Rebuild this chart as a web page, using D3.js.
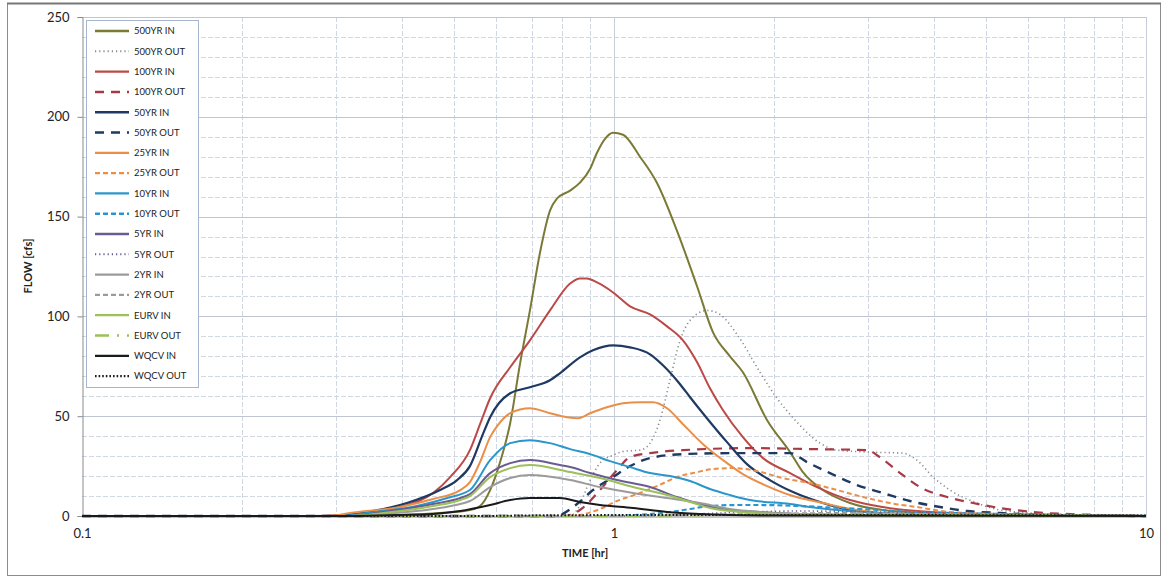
<!DOCTYPE html>
<html><head><meta charset="utf-8">
<script src="https://cdn.jsdelivr.net/npm/d3@7"></script>
<style>
html,body{margin:0;padding:0;background:#fff;}
svg text{font-family:Lato,"Open Sans",sans-serif;}
</style></head>
<body><svg id="c" width="1167" height="578"></svg>
<script>
// ---- data: [time (hr), flow (cfs)] ----
const s500in = [[0.1,0],[0.257,0],[0.396,0.5],[0.471,1.5],[0.536,3],[0.56,5],[0.585,13],[0.61,26.5],[0.638,46.5],[0.666,76.5],[0.695,103],[0.726,132],[0.758,153],[0.781,159],[0.827,163],[0.863,167],[0.902,174],[0.929,182],[0.962,189],[0.996,192],[1.04,191],[1.119,180],[1.204,167],[1.313,143],[1.433,115],[1.535,92],[1.652,80],[1.747,72],[1.94,48],[2.143,32],[2.265,22],[2.47,13],[2.777,6.5],[3.2,3],[4.28,1],[6.6,0.3],[10,0]];
const s500out = [[0.1,0],[0.827,0],[0.852,3],[0.902,18],[0.941,26.5],[0.996,30.5],[1.049,32.5],[1.119,33],[1.169,36.5],[1.22,48],[1.274,68],[1.331,88],[1.39,98],[1.495,103],[1.582,101],[1.703,91],[1.881,72],[2.025,59],[2.208,47],[2.439,36.5],[2.626,33],[3.03,32],[3.49,31.5],[3.71,28],[3.98,19.5],[4.28,13],[4.81,6.5],[5.32,3],[6.6,1],[10,0]];
const s100in = [[0.1,0],[0.28,0],[0.343,1.5],[0.396,4.5],[0.457,11.5],[0.492,19.5],[0.536,33],[0.56,46],[0.585,59],[0.638,74.5],[0.695,88],[0.758,103],[0.827,116.5],[0.863,119],[0.889,119],[0.929,117],[0.996,112],[1.072,105],[1.169,101],[1.258,95],[1.348,88],[1.433,77],[1.515,64],[1.603,53],[1.747,39.5],[1.906,29],[2.143,21.5],[2.407,14.5],[2.777,8],[3.2,4.5],[4.28,1.5],[6.6,0.5],[10,0]];
const s100out = [[0.1,0],[0.809,0],[0.863,3],[0.941,13],[1.013,23],[1.072,29.5],[1.169,31.5],[1.348,33],[1.801,34],[2.366,33.5],[2.99,33],[3.16,29.5],[3.45,21.5],[3.76,14.5],[4.23,9.5],[4.73,6.5],[5.32,4],[6.13,2],[8.2,0.5],[10,0]];
const s50in = [[0.1,0],[0.292,0],[0.343,2],[0.408,6.5],[0.471,13],[0.507,18],[0.536,25],[0.567,41],[0.585,49.5],[0.638,61.5],[0.695,64.5],[0.758,68],[0.791,71.5],[0.863,79.5],[0.913,83],[0.996,85.5],[1.072,84.5],[1.169,81],[1.236,75.5],[1.331,66],[1.39,59.5],[1.495,49],[1.631,37],[1.778,26],[1.963,18],[2.17,12],[2.47,6.5],[2.777,3],[3.45,1],[5.32,0.3],[10,0]];
const s50out = [[0.1,0],[0.775,0],[0.852,6],[0.913,13],[0.996,19.5],[1.072,25],[1.169,29],[1.348,31],[1.674,31.5],[2.143,31.5],[2.306,27],[2.547,21.5],[2.862,15.5],[3.2,11.5],[3.6,7.5],[4.1,4.5],[4.61,2.5],[5.32,1.5],[6.6,0.5],[10,0]];
const s25in = [[0.1,0],[0.292,0],[0.319,1.5],[0.396,4.5],[0.457,8.5],[0.514,13],[0.536,17],[0.56,27],[0.585,39.5],[0.603,45],[0.638,51.5],[0.695,54],[0.758,51.5],[0.816,49.5],[0.856,49],[0.902,51.5],[0.97,54.5],[1.04,56.5],[1.119,57],[1.184,57],[1.258,54],[1.348,46],[1.47,36],[1.603,28],[1.747,21],[1.94,15],[2.17,10],[2.47,6.5],[2.862,3],[3.45,1],[5.32,0.3],[10,0]];
const s25out = [[0.1,0],[0.827,0],[0.941,3.5],[1.013,7.5],[1.105,11],[1.204,15],[1.33,20],[1.408,21.5],[1.535,23.5],[1.674,24],[1.857,22.5],[2.078,19],[2.335,16.5],[2.626,13],[2.94,9.5],[3.3,6.5],[3.71,4.5],[4.28,2],[5.32,1],[6.6,0.5],[10,0]];
const s10in = [[0.1,0],[0.305,0],[0.343,1.5],[0.426,5],[0.486,9],[0.536,13],[0.585,28],[0.638,36.5],[0.695,38],[0.758,36.5],[0.827,33.5],[0.902,31],[0.983,27.5],[1.072,24.5],[1.169,21.5],[1.274,20],[1.39,17.5],[1.515,13.5],[1.652,10.5],[1.801,8],[2.143,6],[2.335,4.5],[2.626,3],[3.16,1.5],[4.28,0.5],[10,0]];
const s10out = [[0.1,0],[0.941,0],[1.169,1],[1.274,2],[1.39,3.5],[1.515,5],[1.703,5.5],[1.881,5.5],[2.236,5],[2.66,4],[3.16,3],[3.6,2],[4.28,1.5],[5.32,1],[8.2,0.3],[10,0]];
const s5in = [[0.1,0],[0.319,0],[0.368,2],[0.457,6],[0.514,9],[0.536,11],[0.585,21.5],[0.638,26.5],[0.695,28],[0.791,25.5],[0.827,24.5],[0.902,21.5],[1.013,18],[1.169,14.5],[1.313,9.5],[1.47,5.5],[1.652,3],[1.881,2],[2.236,1],[3.45,0.3],[10,0]];
const s5out = [[0.1,0],[0.98,0],[1.274,0.5],[1.582,1.5],[2.236,2.5],[3.16,2],[4.28,1.5],[6.6,0.5],[10,0]];
const s2in = [[0.1,0],[0.319,0],[0.368,1],[0.457,3.5],[0.514,6],[0.536,7.5],[0.585,14.5],[0.638,19],[0.695,20.5],[0.827,18],[0.941,14.5],[1.086,11.5],[1.258,9],[1.451,6.5],[1.652,3.5],[1.881,2],[2.236,1],[3.45,0.3],[10,0]];
const s2out = [[0.1,0],[1.02,0],[1.39,0.5],[1.881,1],[2.66,1.5],[3.93,1],[6.6,0.4],[10,0]];
const sEurvIn = [[0.1,0],[0.319,0],[0.368,1.5],[0.457,5],[0.514,8],[0.536,10],[0.585,19.5],[0.638,24],[0.695,25.5],[0.827,22],[0.941,19],[1.086,14.5],[1.258,10.5],[1.39,7],[1.515,4],[1.724,2],[2.052,1],[3.45,0.3],[10,0]];
const sEurvOut = [[0.1,0],[1.0,0],[1.39,0.3],[2.0,0.8],[3.16,1],[5.32,0.6],[10,0]];
const sWqcvIn = [[0.1,0],[0.319,0],[0.396,0.5],[0.457,1],[0.514,2.5],[0.585,5.5],[0.638,8],[0.695,9],[0.791,9],[0.863,7],[0.941,5.5],[1.086,4],[1.258,2],[1.451,1],[1.881,0.3],[10,0]];
const sWqcvOut = [[0.1,0],[0.56,0],[0.7,0.3],[1.2,0.5],[2.5,0.5],[5.0,0.4],[10,0.2]];

const seriesNames = ["500YR IN","500YR OUT","100YR IN","100YR OUT","50YR IN","50YR OUT","25YR IN","25YR OUT","10YR IN","10YR OUT","5YR IN","5YR OUT","2YR IN","2YR OUT","EURV IN","EURV OUT","WQCV IN","WQCV OUT"];
const seriesData = [s500in,s500out,s100in,s100out,s50in,s50out,s25in,s25out,s10in,s10out,s5in,s5out,s2in,s2out,sEurvIn,sEurvOut,sWqcvIn,sWqcvOut];
const yTicks = [0,50,100,150,200,250];
const xTicks = [0.1,1,10];
const xTickLabels = ["0.1","1","10"];

// ---- styles ----
const styles = [
 {c:"#7a7a36",w:2,d:null},
 {c:"#8a8a8a",w:1.6,d:"1.2,3"},
 {c:"#bb4a47",w:2,d:null},
 {c:"#a83a48",w:2.2,d:"9,7"},
 {c:"#1f3a62",w:2.2,d:null},
 {c:"#1f3a62",w:2.4,d:"9,7"},
 {c:"#ea8f48",w:2,d:null},
 {c:"#ea8f48",w:2,d:"5,3"},
 {c:"#2b96cc",w:2,d:null},
 {c:"#2b96cc",w:2.2,d:"5,3"},
 {c:"#6b5b93",w:2,d:null},
 {c:"#6b5b93",w:1.6,d:"1.2,3"},
 {c:"#9b9b9b",w:2,d:null},
 {c:"#9b9b9b",w:2,d:"5,3"},
 {c:"#9cc05a",w:2,d:null},
 {c:"#9cc05a",w:2,d:"14,8,2,8"},
 {c:"#1a1a1a",w:2,d:null},
 {c:"#1a1a1a",w:2,d:"1.6,2"}
];

const svg = d3.select("#c");
const L=82,R=1146,T=17,B=516;
const x = d3.scaleLog().domain([0.1,10]).range([L,R]);
const y = d3.scaleLinear().domain([0,250]).range([B,T]);

// outer frame
svg.append("rect").attr("x",7.5).attr("y",3.5).attr("width",1153).attr("height",572)
  .attr("fill","none").attr("stroke","#8c8c8c").attr("stroke-width",1);
svg.append("line").attr("x1",7).attr("x2",1161).attr("y1",3.5).attr("y2",3.5).attr("stroke","#777").attr("stroke-width",2);

const g = svg.append("g");
// minor horizontal grid
const minorY = d3.range(10,250,10).filter(v=>v%50!==0);
g.selectAll(".hm").data(minorY).enter().append("line")
  .attr("x1",L).attr("x2",R).attr("y1",d=>Math.round(y(d))+0.5).attr("y2",d=>Math.round(y(d))+0.5)
  .attr("stroke","#d3d9e3").attr("stroke-width",1).attr("stroke-dasharray","5,2");
// minor vertical grid
const minorX = [];
[0.1,1].forEach(b=>{for(let k=2;k<=9;k++) minorX.push(b*k);});
g.selectAll(".vm").data(minorX).enter().append("line")
  .attr("y1",T).attr("y2",B).attr("x1",d=>Math.round(x(d))+0.5).attr("x2",d=>Math.round(x(d))+0.5)
  .attr("stroke","#d0d7e2").attr("stroke-width",1).attr("stroke-dasharray","5,2");
// major grid
g.selectAll(".hM").data(yTicks.filter(v=>v>0)).enter().append("line")
  .attr("x1",L).attr("x2",R).attr("y1",d=>Math.round(y(d))+0.5).attr("y2",d=>Math.round(y(d))+0.5)
  .attr("stroke","#bfc6d2").attr("stroke-width",1);
g.selectAll(".vM").data(xTicks.slice(1)).enter().append("line")
  .attr("y1",T).attr("y2",B).attr("x1",d=>Math.round(x(d))+0.5).attr("x2",d=>Math.round(x(d))+0.5)
  .attr("stroke","#c6cdd8").attr("stroke-width",1);

// axes
const yAxis = d3.axisLeft(y).tickValues(yTicks).tickSize(5).tickPadding(8);
const ya = svg.append("g").attr("transform",`translate(${L+0.5},0)`).call(yAxis);
ya.select(".domain").attr("stroke","#8a8a8a");
ya.selectAll(".tick line").attr("stroke","#8a8a8a");
ya.selectAll("text").attr("font-size",13).attr("fill","#222").style("font-family","Lato");

const xAxis = d3.axisBottom(x).tickValues(xTicks).tickFormat((d,i)=>xTickLabels[i]).tickSize(0).tickPadding(12);
const xa = svg.append("g").attr("transform",`translate(0,${B+0.5})`).call(xAxis);
xa.select(".domain").attr("stroke","#8a8a8a");
xa.selectAll("text").attr("font-size",13).attr("fill","#222").style("font-family","Lato");

// titles
svg.append("text").attr("x",585).attr("y",557).attr("text-anchor","middle")
  .attr("font-size",11).attr("font-weight","bold").attr("fill","#222").text("TIME [hr]");
svg.append("text").attr("transform","translate(32,266) rotate(-90)").attr("text-anchor","middle")
  .attr("font-size",11).attr("font-weight","bold").attr("fill","#222").text("FLOW [cfs]");

// lines
const line = d3.line().x(d=>x(d[0])).y(d=>y(d[1])).curve(d3.curveMonotoneX);
const lg = svg.append("g");
seriesData.forEach((s,i)=>{
  const st=styles[i];
  lg.append("path").datum(s).attr("d",line).attr("fill","none")
    .attr("stroke",st.c).attr("stroke-width",st.w)
    .attr("stroke-dasharray",st.d).attr("stroke-linejoin","round");
});

// legend
const leg = svg.append("g");
leg.append("rect").attr("x",86.5).attr("y",20.5).attr("width",112).attr("height",367)
  .attr("fill","#fff").attr("stroke","#a7b6cf").attr("stroke-width",1);
seriesNames.forEach((n,i)=>{
  const st=styles[i];
  const yy = 31 + i*20.3;
  leg.append("line").attr("x1",95).attr("x2",129).attr("y1",yy).attr("y2",yy)
    .attr("stroke",st.c).attr("stroke-width",st.w+0.3).attr("stroke-dasharray",st.d);
  leg.append("text").attr("x",134).attr("y",yy+3.3).attr("font-size",9.5).attr("fill","#222").text(n);
});
</script>
</body></html>
